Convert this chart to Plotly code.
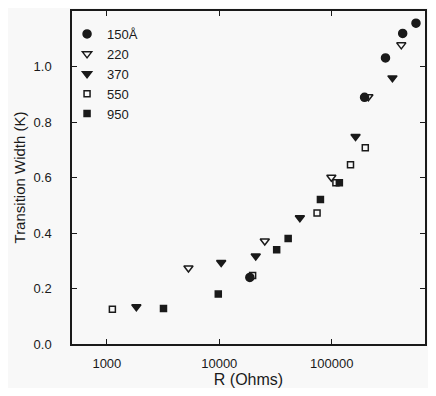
import plotly.graph_objects as go

# film thickness series
r_150 = [18700, 196000, 301000, 428000, 562000]
w_150 = [0.240, 0.889, 1.031, 1.119, 1.156]

r_220 = [5320, 25400, 99300, 212000, 416000]
w_220 = [0.274, 0.371, 0.601, 0.891, 1.078]

r_370 = [1830, 10400, 21100, 52100, 163000, 347000]
w_370 = [0.134, 0.294, 0.317, 0.455, 0.748, 0.959]

r_550 = [1120, 19800, 74100, 109000, 147000, 199000]
w_550 = [0.125, 0.247, 0.472, 0.581, 0.646, 0.707]

r_950 = [3190, 9800, 32400, 41000, 79400, 117000]
w_950 = [0.128, 0.180, 0.340, 0.380, 0.521, 0.581]

x_ticks = [1000, 10000, 100000]
y_ticks = [0.0, 0.2, 0.4, 0.6, 0.8, 1.0, 1.2]

series = [
    ("150Å", r_150, w_150, "circle", 8),
    ("220", r_220, w_220, "triangle-down-open", 8),
    ("370", r_370, w_370, "triangle-down", 8),
    ("550", r_550, w_550, "square-open", 6),
    ("950", r_950, w_950, "square", 6),
]

ink = "#1a1a1a"
fig = go.Figure()
for name, r, w, sym, sz in series:
    fig.add_trace(go.Scatter(
        x=r, y=w, mode="markers", name=name,
        marker=dict(symbol=sym, size=sz, color=ink,
                    line=dict(color=ink, width=1.5)),
    ))

axis_common = dict(
    showgrid=False, zeroline=False, showline=True, linecolor=ink, linewidth=1.5,
    mirror="ticks", ticks="inside", ticklen=5, tickcolor=ink, tickwidth=1.2,
    tickfont=dict(size=13, color=ink),
)

# page body has an 8px margin; keep the figure small enough that nothing scrolls
fig.update_layout(
    width=420, height=380,
    margin=dict(l=64, r=1, t=2, b=44),
    paper_bgcolor="#f8f8f8", plot_bgcolor="#f8f8f8",
    font=dict(family="Liberation Sans, Arial, sans-serif", color=ink),
    xaxis=dict(type="log", range=[2.69, 5.83],
               tickvals=x_ticks, ticktext=[str(v) for v in x_ticks],
               ticklabelstandoff=7,
               title=dict(text="R (Ohms)", font=dict(size=16), standoff=3),
               **axis_common),
    yaxis=dict(range=[0, 1.2], tickvals=y_ticks,
               ticktext=[f"{v:.1f}" for v in y_ticks],
               ticklabelstandoff=16,
               title=dict(text="Transition Width (K)", font=dict(size=15), standoff=4),
               **axis_common),
    legend=dict(x=-0.014, y=0.976, xanchor="left", yanchor="top",
                bgcolor="rgba(0,0,0,0)", font=dict(size=13, color=ink),
                itemwidth=30, tracegroupgap=0),
    showlegend=True,
)

fig.write_html("out.html")
